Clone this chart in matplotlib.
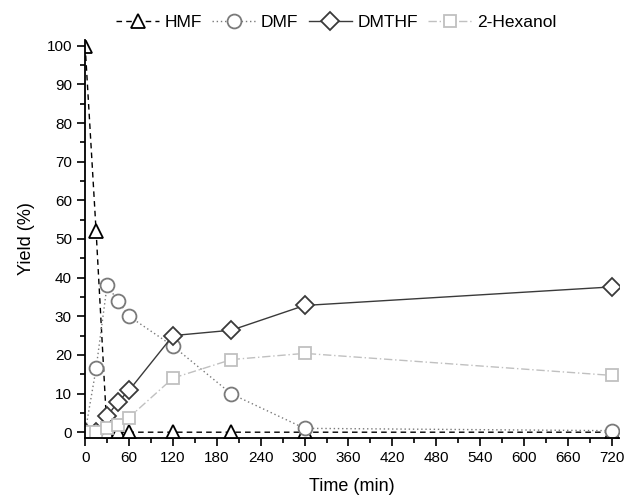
import numpy as np
import matplotlib.pyplot as plt
from matplotlib.ticker import MultipleLocator

plt.rcParams['font.family'] = ['Liberation Sans', 'DejaVu Sans']

t = [0, 15, 30, 45, 60, 120, 200, 300, 720]
hmf = [100, 52, 0, 0, 0, 0, 0, 0, 0]
dmf = [0, 16.5, 38, 34, 30, 22.3, 9.9, 1, 0.4]
dmthf = [0, 0, 4.1, 7.9, 10.8, 25, 26.4, 32.8, 37.6]
hexanol = [0, 0, 1, 1.8, 3.8, 14, 18.8, 20.4, 14.7]

fig = plt.figure(figsize=(6.26, 5), dpi=100)
ax = fig.add_axes([0.136, 0.124, 0.853, 0.796])

ax.plot(t, hmf, linestyle=(0, (4, 3)), color='black', lw=1, marker='^', ms=10,
        mfc='white', mec='black', mew=1.3, label='HMF')
ax.plot(t, dmf, linestyle=(0, (1, 2)), color='#7a7a7a', lw=1, marker='o', ms=10,
        mfc='white', mec='#7a7a7a', mew=1.3, label='DMF')
ax.plot(t, dmthf, linestyle='-', color='#3a3a3a', lw=1, marker='D', ms=9,
        mfc='white', mec='#3a3a3a', mew=1.3, label='DMTHF')
ax.plot(t, hexanol, linestyle=(0, (6, 2, 1, 2)), color='#c0c0c0', lw=1, marker='s', ms=9,
        mfc='white', mec='#c0c0c0', mew=1.3, label='2-Hexanol')

ax.set_xlim(0, 730)
ax.set_ylim(-1.5, 101.5)
ax.xaxis.set_major_locator(MultipleLocator(60))
ax.xaxis.set_minor_locator(MultipleLocator(30))
ax.yaxis.set_major_locator(MultipleLocator(10))
ax.yaxis.set_minor_locator(MultipleLocator(5))
ax.tick_params(which='major', direction='out', length=6, width=1.2, labelsize=11)
ax.tick_params(which='minor', direction='out', length=3.5, width=1.2)
ax.spines['top'].set_visible(False)
ax.spines['right'].set_visible(False)
ax.spines['left'].set_linewidth(1.3)
ax.spines['bottom'].set_linewidth(1.3)

ax.set_xlabel('Time (min)', fontsize=13, labelpad=9)
ax.set_ylabel('Yield (%)', fontsize=13, labelpad=8)

ax.legend(loc='lower center', bbox_to_anchor=(0.47, 1.0), ncol=4, frameon=False,
          fontsize=12.5, handlelength=2.5, columnspacing=0.6, handletextpad=0.3,
          borderaxespad=0.2)

fig.savefig('out.png', dpi=100)
